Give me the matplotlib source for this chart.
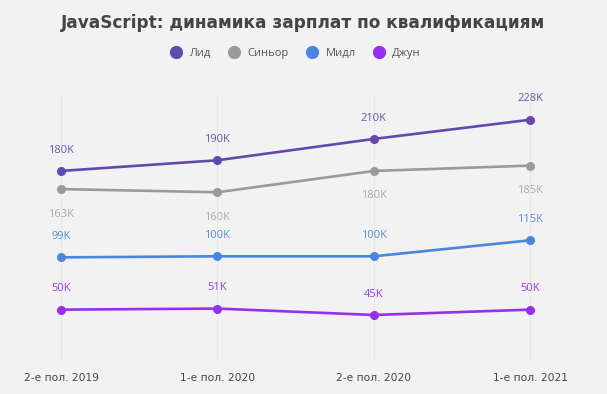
import matplotlib.pyplot as plt

periods = ["2-е пол. 2019", "1-е пол. 2020", "2-е пол. 2020", "1-е пол. 2021"]
lead = [180, 190, 210, 228]
senior = [163, 160, 180, 185]
middle = [99, 100, 100, 115]
junior = [50, 51, 45, 50]

series = [
    ("Лид", lead, "#6548ad", "#6a55a8", 15),
    ("Синьор", senior, "#9a9a9a", "#aaaaaa", -18),
    ("Мидл", middle, "#4a85e0", "#5a8ed8", 15),
    ("Джун", junior, "#9530ee", "#9a3ee0", 15),
]

bg = "#f2f2f2"
fig = plt.figure(figsize=(6.07, 3.94), dpi=100, facecolor=bg)
ax = fig.add_axes([0, 0.0787, 1, 0.677])
ax.set_facecolor(bg)
x = list(range(len(periods)))

for xi in x:
    ax.axvline(xi, color="#e8e8e8", lw=0.7, zorder=0)

for name, vals, col, lcol, off in series:
    ax.plot(x, vals, color=col, lw=1.9, marker="o", ms=5.5, label=name,
            solid_capstyle="round", zorder=3)
    for xi, v in zip(x, vals):
        ax.annotate(f"{v}K", (xi, v), xytext=(0, off), textcoords="offset points",
                    ha="center", va="center", fontsize=8, color=lcol,
                    family="Open Sans")

ax.set_xlim(-0.39, 3.49)
ax.set_ylim(0, 250)
ax.set_yticks([])
ax.set_xticks(x)
ax.set_xticklabels(periods, fontsize=7.7, color="#444444", family="DejaVu Sans")
ax.tick_params(axis="x", length=0, pad=7.5)
for s in ax.spines.values():
    s.set_visible(False)

fig.text(0.5, 0.942, "JavaScript: динамика зарплат по квалификациям", ha="center",
         va="center", fontsize=12.2, fontweight="bold", color="#444444",
         family="DejaVu Sans")

leg = fig.legend(loc="center", bbox_to_anchor=(0.488, 0.865), ncol=4, frameon=False,
                 handlelength=0.8, handletextpad=0.8, columnspacing=1.7,
                 prop={"family": "Open Sans", "size": 8})
for h in leg.legend_handles:
    h.set_linestyle("none")
    h.set_markersize(8.5)
for t in leg.get_texts():
    t.set_color("#555555")

fig.savefig("out.png", dpi=100, facecolor=bg)
